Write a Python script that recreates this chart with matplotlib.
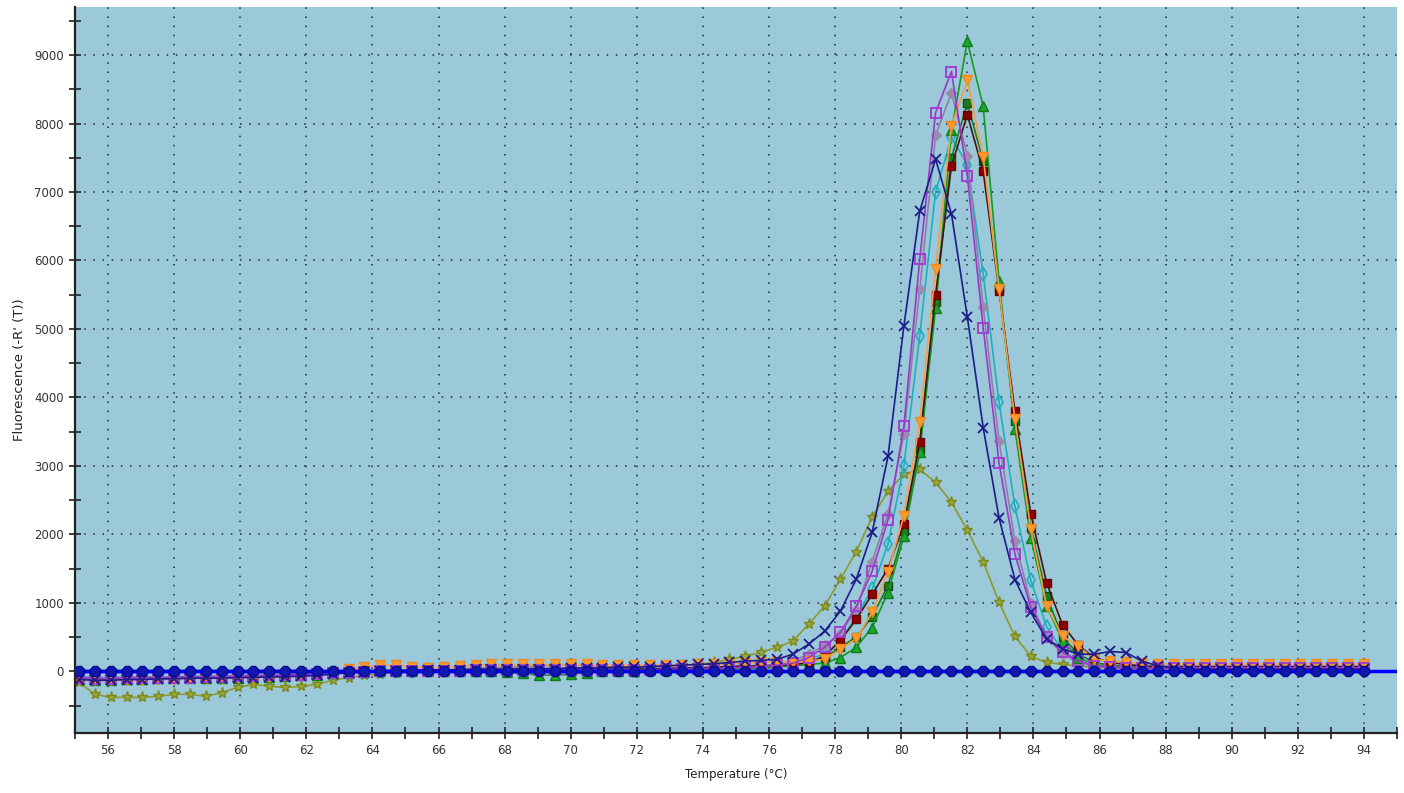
import matplotlib
matplotlib.use("Agg")
import matplotlib.pyplot as plt
from matplotlib.ticker import MultipleLocator

# melt curve, derivative fluorescence -R'(T) vs temperature
temps = [55.12, 55.60, 56.08, 56.56, 57.04, 57.52, 58.00, 58.48, 58.96, 59.44,
         59.92, 60.40, 60.88, 61.36, 61.84, 62.32, 62.80, 63.28, 63.76, 64.24,
         64.72, 65.20, 65.68, 66.16, 66.64, 67.12, 67.60, 68.08, 68.56, 69.04,
         69.52, 70.00, 70.48, 70.96, 71.44, 71.92, 72.40, 72.88, 73.36, 73.84,
         74.32, 74.80, 75.28, 75.76, 76.24, 76.72, 77.20, 77.68, 78.16, 78.64,
         79.12, 79.60, 80.08, 80.56, 81.04, 81.52, 82.00, 82.48, 82.96, 83.44,
         83.92, 84.40, 84.88, 85.36, 85.84, 86.32, 86.80, 87.28, 87.76, 88.24,
         88.72, 89.20, 89.68, 90.16, 90.64, 91.12, 91.60, 92.08, 92.56, 93.04,
         93.52, 94.00]

olive_star = [-160, -335, -380, -380, -380, -365, -335, -335, -365, -310,
              -235, -190, -220, -235, -220, -190, -130, -90, -60, -40,
              -20, 0, 10, 20, 30, 40, 50, 60, 70, 80,
              90, 100, 90, 80, 70, 60, 70, 80, 90, 100,
              130, 175, 220, 280, 350, 440, 690, 950, 1345, 1750,
              2250, 2630, 2880, 2950, 2760, 2470, 2060, 1600, 1010, 510,
              220, 130, 100, 80, 60, 50, 40, 40, 40, 40,
              40, 40, 40, 40, 40, 40, 40, 40, 40, 40,
              40, 40]

navy_x = [-120, -130, -130, -120, -120, -110, -110, -100, -100, -100,
          -90, -90, -80, -80, -70, -60, -40, -20, -10, 0,
          10, 10, 20, 20, 20, 30, 30, 30, 40, 40,
          40, 50, 50, 50, 60, 60, 70, 80, 90, 100,
          110, 130, 150, 160, 175, 250, 395, 585, 880, 1345,
          2030, 3140, 5040, 6720, 7480, 6680, 5175, 3560, 2240, 1340,
          860, 470, 330, 250, 250, 290, 275, 150, 80, 50,
          30, 30, 30, 30, 30, 30, 30, 30, 30, 30,
          30, 30]

purple_sq = [-100, -110, -110, -100, -100, -100, -90, -90, -80, -80,
             -70, -70, -60, -60, -50, -40, -30, -20, -10, 0,
             0, 10, 10, 10, 10, 20, 20, 20, 20, 20,
             20, 20, 20, 20, 20, 20, 20, 30, 30, 40,
             40, 50, 60, 70, 90, 120, 200, 350, 570, 950,
             1460, 2210, 3580, 6020, 8160, 8760, 7240, 5015, 3040, 1710,
             935, 500, 280, 150, 80, 60, 50, 50, 50, 50,
             50, 50, 50, 50, 50, 50, 50, 50, 50, 50,
             50, 50]

grey_dia = [-90, -100, -100, -100, -90, -90, -90, -80, -80, -70,
            -70, -60, -60, -50, -50, -40, -30, -20, -10, 0,
            0, 10, 10, 10, 20, 20, 20, 20, 30, 30,
            30, 30, 30, 30, 30, 30, 30, 40, 40, 40,
            50, 50, 60, 80, 100, 150, 250, 380, 550, 900,
            1600, 2300, 3460, 5580, 7830, 8450, 7530, 5320, 3360, 1900,
            1000, 500, 250, 130, 80, 60, 50, 50, 50, 50,
            50, 50, 50, 50, 50, 50, 50, 50, 50, 50,
            50, 50]

teal_dia = [-80, -90, -90, -90, -80, -80, -80, -70, -70, -70,
            -60, -60, -50, -50, -40, -30, -20, -10, 0, 10,
            10, 10, 20, 20, 20, 20, 20, 30, 30, 30,
            30, 30, 30, 30, 30, 30, 30, 40, 40, 40,
            40, 50, 60, 70, 90, 120, 180, 250, 450, 800,
            1200, 1860, 3000, 4900, 7000, 7800, 7400, 5800, 3930, 2410,
            1330, 650, 300, 150, 80, 60, 50, 50, 50, 50,
            50, 50, 50, 50, 50, 50, 50, 50, 50, 50,
            50, 50]

dkgreen_sq = [-110, -120, -120, -110, -110, -100, -100, -100, -90, -90,
              -90, -80, -80, -70, -60, -50, -30, -20, -10, 0,
              10, 10, 10, 20, 20, 20, 20, 20, 20, 20,
              20, 20, 20, 20, 20, 20, 30, 30, 30, 30,
              40, 40, 50, 60, 70, 90, 120, 200, 350, 500,
              800, 1250, 2050, 3250, 5400, 7500, 8300, 7450, 5600, 3650,
              2100, 1100, 500, 250, 130, 90, 70, 60, 60, 60,
              60, 60, 60, 60, 60, 60, 60, 60, 60, 60,
              60, 60]

green_tri = [-110, -120, -120, -110, -110, -100, -100, -100, -90, -90,
             -90, -80, -80, -70, -60, -50, -30, -20, -10, 0,
             0, 0, 10, 10, 10, 10, 0, -10, -30, -50,
             -60, -40, -20, 0, 10, 10, 20, 20, 30, 30,
             30, 40, 40, 50, 60, 80, 100, 120, 200, 350,
             640, 1150, 1970, 3200, 5300, 7900, 9200, 8250, 5700, 3540,
             1950, 950, 450, 200, 100, 70, 50, 50, 50, 50,
             50, 50, 50, 50, 50, 50, 50, 50, 50, 50,
             50, 50]

orange_tri = [-120, -130, -130, -120, -120, -110, -110, -100, -100, -100,
              -90, -90, -80, -70, -60, -40, -10, 30, 60, 90,
              90, 70, 50, 60, 80, 90, 100, 100, 100, 100,
              100, 100, 100, 90, 90, 90, 90, 90, 90, 100,
              100, 110, 120, 130, 140, 130, 150, 175, 320, 480,
              860, 1450, 2270, 3640, 5880, 7970, 8630, 7510, 5580, 3680,
              2075, 950, 510, 370, 175, 150, 130, 120, 110, 110,
              110, 110, 110, 110, 110, 110, 110, 110, 110, 110,
              110, 110]

dkred_sq = [-100, -110, -110, -100, -100, -100, -90, -90, -90, -80,
            -80, -70, -70, -60, -50, -40, -20, -10, 0, 10,
            10, 20, 20, 20, 20, 30, 30, 30, 30, 30,
            30, 30, 30, 30, 30, 30, 40, 40, 50, 50,
            60, 70, 80, 80, 90, 100, 130, 220, 450, 760,
            1125, 1500, 2150, 3350, 5500, 7380, 8130, 7300, 5560, 3800,
            2300, 1290, 680, 380, 200, 130, 100, 80, 70, 70,
            70, 70, 70, 70, 70, 70, 70, 70, 70, 70,
            70, 70]

blue_ntc = [0, 0, 0, 0, 0, 0, 0, 0, 0, 0,
            0, 0, 0, 0, 0, 0, 0, 0, 0, 0,
            0, 0, 0, 0, 0, 0, 0, 0, 0, 0,
            0, 0, 0, 0, 0, 0, 0, 0, 0, 0,
            0, 0, 0, 0, 0, 0, 0, 0, 0, 0,
            0, 0, 0, 0, 0, 0, 0, 0, 0, 0,
            0, 0, 0, 0, 0, 0, 0, 0, 0, 0,
            0, 0, 0, 0, 0, 0, 0, 0, 0, 0,
            0, 0]

fig = plt.figure(figsize=(14.04, 7.93), dpi=100)
ax = fig.add_axes([0.0534, 0.0757, 0.9416, 0.9153])
ax.set_facecolor("#9CC9D9")

lw = 1.2
ms = 7
ax.plot(temps, olive_star, color="#8C9A2C", lw=lw, marker="*", ms=ms + 1,
        mfc="#9AA838", mec="#7C8A20")
ax.plot(temps, teal_dia, color="#1FAFC0", lw=lw, marker="d", ms=ms,
        mfc="none", mec="#1FAFC0", mew=1.2)
ax.plot(temps, grey_dia, color="#8E7FA8", lw=lw, marker="D", ms=ms - 2,
        mfc="#9A8AAE", mec="#9A8AAE")
ax.plot(temps, dkgreen_sq, color="#1E7A1E", lw=lw, marker="s", ms=ms - 1,
        mfc="#1E7A1E", mec="#124F12")
ax.plot(temps, green_tri, color="#139A22", lw=lw, marker="^", ms=ms,
        mfc="#18A82A", mec="#107A1C")
ax.plot(temps, dkred_sq, color="#4A1010", lw=lw, marker="s", ms=ms - 1,
        mfc="#8B0000", mec="#6A0000")
ax.plot(temps, orange_tri, color="#F5A040", lw=lw, marker="v", ms=ms,
        mfc="#FF9A30", mec="#F08A20")
ax.plot(temps, purple_sq, color="#9A38C8", lw=lw, marker="s", ms=ms,
        mfc="none", mec="#A040D0", mew=1.4)
ax.plot(temps, navy_x, color="#1C1C8A", lw=lw, marker="x", ms=ms,
        mec="#1C1C8A", mew=1.3)
# threshold-like baseline across the full width, then the flat well on top
ax.axhline(0, color="#0000FF", lw=2.5, zorder=5)
ax.plot(temps, blue_ntc, color="#0000FF", lw=2.5, marker="8", ms=8,
        mfc="#1018B0", mec="#0A0A90", zorder=6)

ax.set_xlim(55, 95)
ax.set_ylim(-900, 9700)
ax.xaxis.set_major_locator(MultipleLocator(2))
ax.xaxis.set_minor_locator(MultipleLocator(1))
ax.yaxis.set_major_locator(MultipleLocator(1000))
ax.yaxis.set_minor_locator(MultipleLocator(500))
ax.tick_params(which="both", direction="inout", length=9, width=1.2,
               labelsize=8.5, labelcolor="#333333", color="#222222")
ax.grid(which="major", color="#1A2A3A", linestyle=(0, (1, 5)), linewidth=1.1)

for s in ["top", "right"]:
    ax.spines[s].set_visible(False)
for s in ["left", "bottom"]:
    ax.spines[s].set_linewidth(1.6)
    ax.spines[s].set_color("#222222")

ax.set_xlabel("Temperature (°C)", fontsize=8.5, color="#222222", labelpad=8)
ax.set_ylabel("Fluorescence (-R' (T))", fontsize=9.5, color="#222222", labelpad=6)

fig.savefig("out.png", dpi=100)
